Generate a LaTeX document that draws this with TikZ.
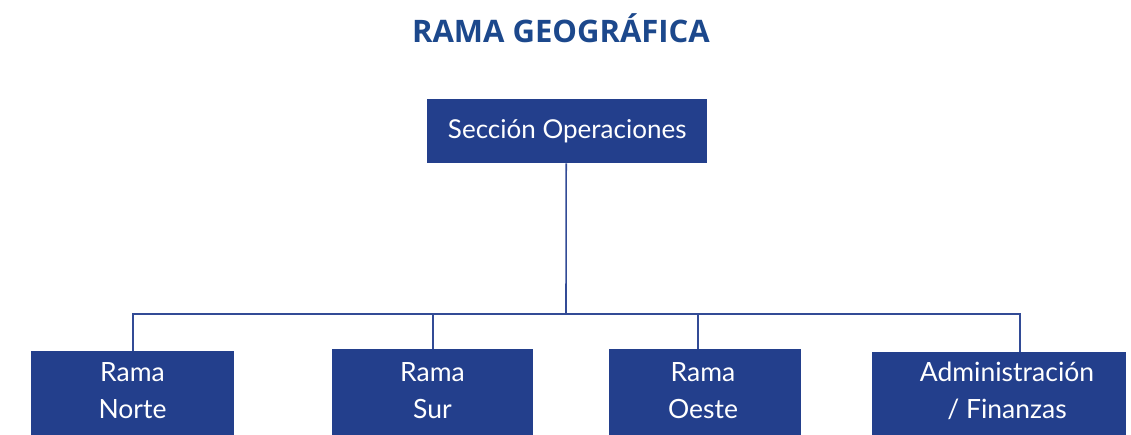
\documentclass[tikz,border=0pt]{standalone}
\usepackage{fontspec}
\setmainfont{Lato}
\newfontfamily\titlefont{Open Sans}
\definecolor{boxblue}{RGB}{35,63,140}
\definecolor{titleblue}{RGB}{28,72,140}
\definecolor{lineblue}{RGB}{50,75,150}
\begin{document}
\begin{tikzpicture}[x=1pt,y=-1pt,
  boxshape/.style={fill=boxblue, draw=none, inner sep=0pt, anchor=north west},
  orgtext/.style={text=white, font=\fontsize{26.5}{37}\selectfont, align=center},
  link/.style={draw=lineblue, line width=1.6pt}]
\useasboundingbox (0,0) rectangle (1131,435);
\node[font=\titlefont\bfseries\fontsize{31}{34}\selectfont, text=titleblue] (title) at (561,28) {RAMA GEOGRÁFICA};
\node[boxshape, minimum width=280pt, minimum height=64pt] (top) at (427,99) {};
\node[orgtext, font=\fontsize{26}{30}\selectfont] (toptext) at (top.center) {Sección Operaciones};
% bottom boxes
\node[boxshape, minimum width=203pt, minimum height=90pt] (r1) at (31,351) {};
\node[boxshape, minimum width=201pt, minimum height=92pt] (r2) at (332,349) {};
\node[boxshape, minimum width=192pt, minimum height=92pt] (r3) at (609,349) {};
\node[boxshape, minimum width=254pt, minimum height=89pt] (r4) at (872,352) {};
\node[orgtext] (t1) at (132.5,391) {Rama\\Norte};
\node[orgtext] (t2) at (432.5,391) {Rama\\Sur};
\node[orgtext] (t3) at (703,391) {Rama\\Oeste};
\node[orgtext] (t4) at (1007,391) {Administración\\/ Finanzas};
\coordinate (bar) at (566,314);
\draw[link] ([xshift=-1pt]top.south) -- (bar);
\draw[link] (r1.north) |- (bar) -| ([xshift=21pt]r4.north);
\draw[link] (r2.north) -- (r2.north |- bar);
\draw[link] ([xshift=-7pt]r3.north) -- ([xshift=-7pt]r3.north |- bar);
\end{tikzpicture}
\end{document}
